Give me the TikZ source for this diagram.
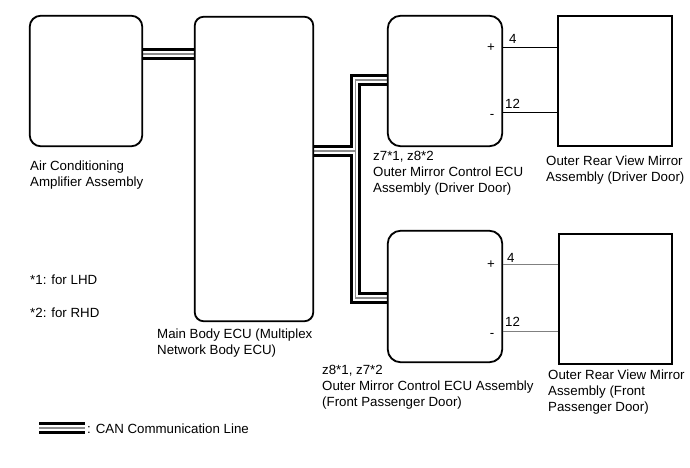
\documentclass[tikz,border=0pt]{standalone}
\usepackage{fontspec}
\setmainfont{Liberation Sans}
\begin{document}
\begin{tikzpicture}[x=1pt,y=-1pt,
  every node/.style={font=\fontsize{13.3}{16}\selectfont, inner sep=0pt},
  ecubox/.style={draw=black, line width=1.1pt, rounded corners=11pt, rectangle},
  mirbox/.style={draw=black, line width=1.1pt, rectangle},
  lbl/.style={anchor=base west, align=left},
  pin/.style={anchor=base},
  canblack/.style={line width=11.5pt, black, line join=miter},
  canwhite/.style={line width=5.8pt, white, line join=miter},
  cangray/.style={line width=1.2pt, black!45, line join=miter},
  wire/.style={line width=0.8pt, black},
  greywire/.style={line width=0.8pt, black!50}
]
\useasboundingbox (0,0) rectangle (690,467);

% boxes
\node[ecubox, minimum width=112pt, minimum height=130pt] (ac) at (86,81) {};
\node[ecubox, minimum width=118pt, minimum height=304pt, rounded corners=9pt] (main) at (254,169) {};
\node[ecubox, minimum width=114pt, minimum height=130pt, rounded corners=13pt] (dcu) at (445,81) {};
\node[mirbox, minimum width=114pt, minimum height=130pt] (dmir) at (615,81) {};
\node[ecubox, minimum width=114pt, minimum height=131pt, rounded corners=13pt] (pcu) at (445,296.5) {};
\node[mirbox, minimum width=113pt, minimum height=130pt] (pmir) at (615.5,299) {};

% CAN bus routing coordinates
\coordinate (jt) at (355.5,80);
\coordinate (jm) at (355.5,151);
\coordinate (jb) at (355.5,298);
\coordinate (lg1) at (39,428);
\coordinate (lg2) at (85,428);

\foreach \s in {canblack,canwhite,cangray}{
  \draw[\s] (ac.east |- 0,54) -- (main.west |- 0,54);
  \draw[\s] (main.east |- jm) -- (jm);
  \draw[\s] (dcu.west |- jt) -- (jt) -- (jb) -- (pcu.west |- jb);
  \draw[\s] (lg1) -- (lg2);
}

% redraw box borders over the bundle ends
\draw[line width=1.1pt, rounded corners=9pt] (main.south west) rectangle (main.north east);
\draw[line width=1.1pt, rounded corners=11pt] (ac.south west) rectangle (ac.north east);
\draw[line width=1.1pt, rounded corners=13pt] (dcu.south west) rectangle (dcu.north east);
\draw[line width=1.1pt, rounded corners=13pt] (pcu.south west) rectangle (pcu.north east);

% driver side wires
\draw[wire] (dcu.east |- 0,47) -- (dmir.west |- 0,47);
\draw[wire] (dcu.east |- 0,112) -- (dmir.west |- 0,112);
\node[pin] (dp) at (491,51) {+};
\node[pin] (dm) at (492,118) {-};
\node[lbl] (d4) at (509,43) {4};
\node[lbl] (d12) at (505,108) {12};

% passenger side wires
\draw[greywire] (pcu.east |- 0,264) -- (pmir.west |- 0,264);
\draw[greywire] (pcu.east |- 0,331) -- (pmir.west |- 0,331);
\node[pin] (pp) at (491,268) {+};
\node[pin] (pm) at (492,337) {-};
\node[lbl] (p4) at (507,262) {4};
\node[lbl] (p12) at (505,326) {12};

% labels (base anchor = baseline of last line)
\node[lbl] (acl) at (30,186) {Air Conditioning\\Amplifier Assembly};
\node[lbl] (mainl) at (157,354) {Main Body ECU (Multiplex\\Network Body ECU)};
\node[lbl] (dcul) at (373,192) {z7*1, z8*2\\Outer Mirror Control ECU\\Assembly (Driver Door)};
\node[lbl] (dmirl) at (546,181) {Outer Rear View Mirror\\Assembly (Driver Door)};
\node[lbl] (pcul) at (322,406) {z8*1, z7*2\\Outer Mirror Control ECU Assembly\\(Front Passenger Door)};
\node[lbl] (pmirl) at (548,411) {Outer Rear View Mirror\\Assembly (Front\\Passenger Door)};
\node[lbl] (n1) at (30,284) {*1: for LHD};
\node[lbl] (n2) at (30,317) {*2: for RHD};
\node[lbl] (lgt) at (87,433) {: CAN Communication Line};
\end{tikzpicture}
\end{document}
